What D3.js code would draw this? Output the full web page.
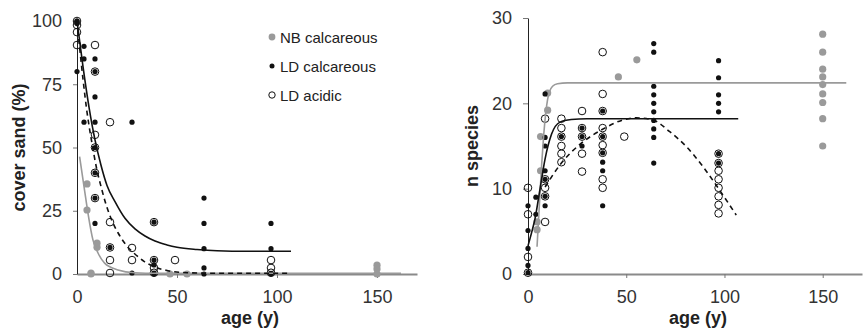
<!DOCTYPE html>
<html>
<head>
<meta charset="utf-8">
<script src="https://cdn.jsdelivr.net/npm/d3@7"></script>
<style>
  body { margin: 0; background: #fff; }
  svg { display: block; font-family: "Liberation Sans", Arial, sans-serif; }
</style>
</head>
<body>
<div id="chart"></div>
<script>
// ---- data: [age (y), value] ----
const xTicks = [0, 50, 100, 150];
const coverTicks = [0, 25, 50, 75, 100];
const speciesTicks = [0, 10, 20, 30];
const seriesNames = ['NB calcareous', 'LD calcareous', 'LD acidic'];

const coverNB = [[5, 35.6], [5, 25.3], [7, 0.4], [7, 0], [10, 12.2], [10, 10.6],
  [46.5, 0], [55, 0], [150, 3.5], [150, 2], [150, 0]];
const coverLDcalc = [[0, 100], [0, 100], [0, 99], [0, 80],
  [3.5, 90], [3.5, 85], [3.5, 60],
  [9, 85], [9, 80], [9, 70], [9, 60], [9, 50], [9, 40], [9, 30], [9, 20],
  [16.5, 10.5], [27.5, 60], [27.5, 0.4],
  [38.5, 20.5], [38.5, 5.5], [38.5, 3.6], [38.5, 0.4], [38.5, 0],
  [63.5, 30], [63.5, 20], [63.5, 10], [63.5, 2.4], [63.5, 0],
  [97, 20], [97, 10], [97, 0.3], [97, 0]];
const coverLDacid = [[0, 100], [0, 98.4], [0, 95.6], [0, 90.5],
  [9, 90.5], [9, 80], [9, 55], [9, 50], [9, 40], [9, 30],
  [16.5, 60], [16.5, 20.5], [16.5, 10.5], [16.5, 5.5], [16.5, 0.4],
  [27.5, 10.3], [27.5, 5.5],
  [38.5, 20.5], [38.5, 5.5], [38.5, 2.4], [38.5, 0.5],
  [49, 5.5], [97, 5.5], [97, 2.4], [97, 0.5]];

const speciesNB = [[4.6, 6.1], [4.6, 5.2], [6.4, 16.1], [6.4, 12.1], [10, 21.2], [10, 19.2],
  [46, 23.1], [55.4, 25.1],
  [150, 28.1], [150, 26], [150, 24], [150, 23.1], [150, 22.2], [150, 21.1], [150, 20.1], [150, 18.2], [150, 15]];
const speciesLDcalc = [[0, 8], [0, 5.1], [0, 3], [0, 1], [0, 0.15],
  [4, 9], [4, 7],
  [8.7, 21.1], [8.7, 16], [8.7, 15], [8.7, 12.1], [8.7, 11.1], [8.7, 9.1], [8.7, 8],
  [17, 16.1], [27.5, 17.1], [27.5, 16.1], [27.5, 15],
  [38, 19.1], [38, 16.1], [38, 14.2], [38, 13.1], [38, 12.1], [38, 8],
  [64, 27], [64, 26], [64, 22], [64, 21], [64, 20], [64, 19], [64, 18], [64, 17], [64, 16], [64, 13],
  [97, 25], [97, 23], [97, 21], [97, 20], [97, 19], [97, 14.1], [97, 13]];
const speciesLDacid = [[0, 10.1], [0, 7], [0, 2], [0, 0.15],
  [8.7, 18.2], [8.7, 11.1], [8.7, 10.1], [8.7, 9.1], [8.7, 6.1],
  [17, 18.2], [17, 17.1], [17, 16.1], [17, 15], [17, 14.1], [17, 13.1],
  [27.5, 19.1], [27.5, 17.1], [27.5, 16.1], [27.5, 14.1], [27.5, 12],
  [38, 26], [38, 21.1], [38, 19.1], [38, 17.1], [38, 16.1], [38, 15.1], [38, 14.2], [38, 11.1], [38, 10.1],
  [49, 16.1],
  [97, 14.1], [97, 13], [97, 12.1], [97, 11.1], [97, 10.1], [97, 9.1], [97, 8.1], [97, 7.1]];

// fitted curves
const coverFitNB = [[1.3, 46.4], [3.8, 33], [5.5, 24], [8, 13.4], [10.5, 8.3], [13.8, 4.3],
  [20.5, 1.6], [28.8, 0.5], [40, 0.3], [162, 0.3]];
const coverFitCalc = [[0, 100], [3, 82], [6, 66], [9, 53], [12, 43], [15, 35], [19, 28.6], [24, 22],
  [29, 17.8], [34, 15], [39, 13], [45, 11.5], [50, 10.6], [60, 9.7], [70, 9.2], [85, 9], [107, 9]];
const coverFitAcid = [[0, 100], [3, 77], [5, 64], [7.2, 53], [10, 41], [12.2, 34], [14.7, 27], [17.5, 21],
  [20.5, 16.3], [24.5, 11.5], [28.8, 8], [33.5, 5], [38.8, 2.8], [45.5, 1.3], [55, 0.5], [70, 0.3], [107, 0.3]];
const speciesFitNB = [[4.6, 3.2], [6, 9], [7, 13], [8, 16.3], [9, 18.8], [10, 20.5], [11, 21.4],
  [12.5, 22], [15, 22.3], [20, 22.4], [162, 22.4]];
const speciesFitCalc = [[0, 3.3], [2, 5], [3.6, 6.5], [6, 9.8], [8.7, 13.5], [12, 16.4], [16.3, 17.8],
  [22, 18.1], [30, 18.2], [107, 18.2]];
const speciesFitAcid = [[8.7, 10.2], [17, 13], [27, 15.3], [37.5, 16.9], [47.6, 18], [55, 18.3],
  [63.6, 18.05], [72, 16.7], [80.7, 14.9], [89, 12.6], [97.6, 9.8], [106, 6.9]];

const width = 863, height = 332;
const grey = '#9a9a9a';

const svg = d3.select('#chart').append('svg')
  .attr('width', width)
  .attr('height', height);

function drawPanel(opt) {
  const x = d3.scaleLinear().domain([0, 170]).range(opt.xRange);
  const y = d3.scaleLinear().domain(opt.yDomain).range(opt.yRange);
  const g = svg.append('g');

  // x axis (grey line, ticks down)
  const xa = g.append('g')
    .attr('transform', `translate(0,${opt.yRange[0]})`)
    .call(d3.axisBottom(x).tickValues(xTicks).tickSize(4).tickSizeOuter(0).tickPadding(12));
  xa.select('.domain').attr('stroke', '#8a8a8a').attr('stroke-width', 2);
  xa.selectAll('.tick line').attr('stroke', '#777');
  xa.selectAll('.tick').filter(d => d === 0).select('line').remove();

  // y axis
  const ya = g.append('g')
    .attr('transform', `translate(${opt.xRange[0]},0)`)
    .call(d3.axisLeft(y).tickValues(opt.yTicks).tickSize(opt.yTickSize).tickSizeOuter(0).tickPadding(11));
  ya.select('.domain').attr('stroke', '#222');
  ya.selectAll('.tick line').attr('stroke', '#777');

  g.selectAll('.tick text')
    .attr('fill', '#333')
    .style('font-size', '18px')
    .style('font-family', '"Liberation Sans", Arial, sans-serif');

  // titles
  g.append('text')
    .attr('x', (opt.xRange[0] + x(170)) / 2 + 3)
    .attr('y', 324)
    .attr('text-anchor', 'middle')
    .attr('fill', '#222')
    .style('font-size', '18px')
    .style('font-weight', 'bold')
    .text('age (y)');
  g.append('text')
    .attr('transform', `translate(${opt.titleX},${(opt.yRange[0] + opt.yRange[1]) / 2}) rotate(-90)`)
    .attr('text-anchor', 'middle')
    .attr('fill', '#222')
    .style('font-size', '18px')
    .style('font-weight', 'bold')
    .text(opt.title);

  // points
  g.append('g').selectAll('circle').data(opt.nb).join('circle')
    .attr('cx', d => x(d[0])).attr('cy', d => y(d[1])).attr('r', 3.6)
    .attr('fill', grey);
  g.append('g').selectAll('circle').data(opt.acid).join('circle')
    .attr('cx', d => x(d[0])).attr('cy', d => y(d[1])).attr('r', 3.8)
    .attr('fill', 'none').attr('stroke', '#111').attr('stroke-width', 1);
  g.append('g').selectAll('circle').data(opt.calc).join('circle')
    .attr('cx', d => x(d[0])).attr('cy', d => y(d[1])).attr('r', 2.6)
    .attr('fill', '#111');

  // fitted curves
  const line = d3.line().x(d => x(d[0])).y(d => y(d[1])).curve(d3.curveMonotoneX);
  g.append('path').datum(opt.fitNB).attr('d', line)
    .attr('fill', 'none').attr('stroke', grey).attr('stroke-width', 1.6);
  g.append('path').datum(opt.fitCalc).attr('d', line)
    .attr('fill', 'none').attr('stroke', '#111').attr('stroke-width', 1.6);
  g.append('path').datum(opt.fitAcid).attr('d', line)
    .attr('fill', 'none').attr('stroke', '#111').attr('stroke-width', 1.6)
    .attr('stroke-dasharray', '5,4');
}

drawPanel({
  xRange: [77, 417], yDomain: [0, 100], yRange: [274, 21], yTicks: coverTicks, yTickSize: 4,
  title: 'cover sand (%)', titleX: 25,
  nb: coverNB, calc: coverLDcalc, acid: coverLDacid,
  fitNB: coverFitNB, fitCalc: coverFitCalc, fitAcid: coverFitAcid
});

drawPanel({
  xRange: [528, 862], yDomain: [0, 30], yRange: [274, 18], yTicks: speciesTicks, yTickSize: 5,
  title: 'n species', titleX: 478,
  nb: speciesNB, calc: speciesLDcalc, acid: speciesLDacid,
  fitNB: speciesFitNB, fitCalc: speciesFitCalc, fitAcid: speciesFitAcid
});

// legend
const legend = svg.append('g').attr('transform', 'translate(272,37)');
seriesNames.forEach((name, i) => {
  const row = legend.append('g').attr('transform', `translate(0,${i * 29})`);
  const c = row.append('circle').attr('cx', 0).attr('cy', 0);
  if (i === 0) c.attr('r', 3.4).attr('fill', grey);
  else if (i === 1) c.attr('r', 2.5).attr('fill', '#111');
  else c.attr('r', 3.2).attr('fill', 'none').attr('stroke', '#111');
  row.append('text')
    .attr('x', 8).attr('y', 5.5)
    .attr('fill', '#222')
    .style('font-size', '15px')
    .text(name);
});
</script>
</body>
</html>
